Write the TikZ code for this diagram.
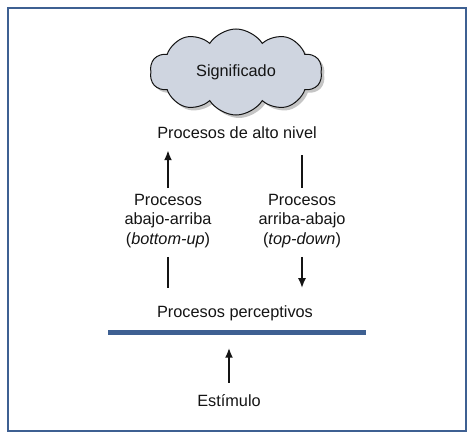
\documentclass[tikz,border=0pt]{standalone}
\usepackage{fontspec}
\setmainfont{Liberation Sans}
\usepackage{tikz}
\usetikzlibrary{arrows.meta,positioning,shapes.symbols,shadows}
\definecolor{frameblue}{RGB}{62,96,146}
\definecolor{cloudgray}{RGB}{207,213,224}
\definecolor{ink}{RGB}{20,20,20}

\begin{document}
\begin{tikzpicture}[x=1pt,y=-1pt,
    txt/.style={inner sep=0pt,align=center,text=ink,
      font=\fontsize{16.3}{19.5}\selectfont},
    arr/.style={draw=ink,line width=2.8pt,-{Latex[length=10pt,width=8pt]}},
    bar/.style={draw=ink,line width=2.8pt}]
  \useasboundingbox (0,0) rectangle (474,441);
  \draw[frameblue,line width=2.2pt] (8,8) rectangle (466,431);

  % cloud on top
  \node[cloud,cloud puffs=10,cloud puff arc=115,aspect=1.9,
    draw=ink,line width=1pt,fill=cloudgray,
    minimum width=172pt,minimum height=86pt,inner sep=0pt,
    drop shadow={shadow xshift=3pt,shadow yshift=-3pt,fill=black!45,opacity=.5},
    txt] (cloud) at (236,72) {Significado};
  \node[txt] (alto) at (237,133) {Procesos de alto nivel};

  % the two ways
  \node[txt] (bu) at (168,221) {Procesos\\abajo-arriba\\(\textit{bottom-up})};
  \node[txt] (td) at (302,221) {Procesos\\arriba-abajo\\(\textit{top-down})};

  \node[txt] (perc) at (235,313) {Procesos perceptivos};
  \node[fill=frameblue,minimum width=258pt,minimum height=5pt,
    inner sep=0pt] (line) at (237,332) {};
  \node[txt] (est) at (229,401) {Estímulo};

  \draw[arr,shorten <=6pt,shorten >=11pt] (bu.north) -- (bu.north |- alto.south);
  \draw[bar,shorten <=9pt,shorten >=17pt] (bu.south) -- (bu.south |- perc.north);
  \draw[bar,shorten <=16pt,shorten >=6pt] (td.north |- alto.south) -- (td.north);
  \draw[arr,shorten <=9pt,shorten >=17pt] (td.south) -- (td.south |- perc.north);
  \draw[arr,shorten <=12pt,shorten >=13pt] (est.north) -- (est.north |- line.south);
\end{tikzpicture}
\end{document}
